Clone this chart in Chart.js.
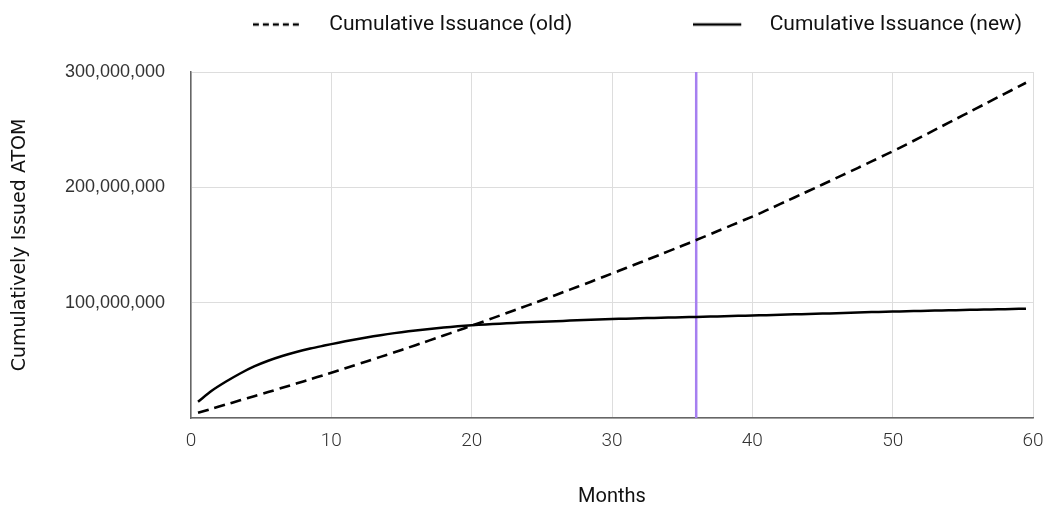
<!DOCTYPE html>
<html>
<head>
<meta charset="utf-8">
<script src="https://cdn.jsdelivr.net/npm/chart.js@4.4.1/dist/chart.umd.min.js"></script>
<style>
  html, body { margin: 0; padding: 0; background: #ffffff; }
  #wrap { width: 1045px; height: 509px; }
</style>
</head>
<body>
<div id="wrap"><canvas id="c" width="1045" height="509"></canvas></div>
<script>
// ---- data (millions of ATOM) ----
const months = [0.5,1.5,2.5,3.5,4.5,5.5,6.5,7.5,8.5,9.5,10.5,11.5,12.5,13.5,14.5,15.5,16.5,17.5,18.5,19.5,
  20.5,21.5,22.5,23.5,24.5,25.5,26.5,27.5,28.5,29.5,30.5,31.5,32.5,33.5,34.5,35.5,36.5,37.5,38.5,39.5,
  40.5,41.5,42.5,43.5,44.5,45.5,46.5,47.5,48.5,49.5,50.5,51.5,52.5,53.5,54.5,55.5,56.5,57.5,58.5,59.5];
const oldIssuanceM = [4.5,8.1,11.7,15.3,18.9,22.5,26.2,29.9,33.6,37.4,41.2,45.1,49.0,53.0,57.0,61.1,65.2,69.4,73.6,77.9,
  82.2,86.6,91.0,95.4,99.9,104.4,109.0,113.6,118.2,122.9,127.6,132.4,137.2,142.0,146.9,151.8,156.8,161.9,167.0,172.1,
  177.2,182.8,188.4,194.0,199.6,205.3,211.0,216.7,222.5,228.3,234.2,240.4,246.6,252.9,259.2,265.5,271.8,278.1,284.4,290.7];
const newIssuanceM = [14.1,23.8,31.6,38.6,44.7,49.6,53.7,57.2,60.2,62.8,65.3,67.6,69.8,71.8,73.6,75.2,76.6,77.9,79.0,80.0,
  80.8,81.5,82.1,82.7,83.2,83.7,84.2,84.7,85.2,85.6,86.0,86.3,86.6,86.9,87.2,87.5,87.8,88.1,88.4,88.7,
  89.0,89.3,89.7,90.0,90.4,90.7,91.1,91.4,91.8,92.1,92.4,92.7,93.0,93.3,93.5,93.8,94.0,94.3,94.5,94.8];
const markerMonth = [36, 36];
const markerRange = [0, 300000000];
const seriesLabels = ['Cumulative Issuance (old)', 'Cumulative Issuance (new)'];
const xTicks = [0, 10, 20, 30, 40, 50, 60];
const yTicks = [0, 100000000, 200000000, 300000000];
const xTitle = 'Months';
const yTitle = 'Cumulatively Issued ATOM';

const toPoints = (xs, ys) => xs.map((x, i) => ({ x: x, y: ys[i] * 1e6 }));

// legend glyphs: a short line sample on the left of a wider box, so text sits further right
function legendGlyph(dash) {
  const cv = document.createElement('canvas');
  cv.width = 66; cv.height = 6;
  const g = cv.getContext('2d');
  g.strokeStyle = '#000000';
  g.lineWidth = 2.5;
  g.setLineDash(dash);
  g.beginPath();
  g.moveTo(0, 3); g.lineTo(48, 3);
  g.stroke();
  return cv;
}
const glyphs = [legendGlyph([6, 4]), legendGlyph([])];

const LEG_PAD = 121;
const legendShift = {
  id: 'legendShift',
  beforeInit(chart) {
    const lg = chart.legend;
    const origFit = lg.fit;
    lg.fit = function () { origFit.call(this); this.height = 72; };
    const origDraw = lg._draw;
    lg._draw = function () {
      const t = this.top, l = this.left, r = this.right;
      this.top = t - (LEG_PAD - 14);
      this.left = l + 115; this.right = r + 115;
      origDraw.call(this);
      this.top = t; this.left = l; this.right = r;
    };
  }
};

new Chart(document.getElementById('c'), {
  type: 'line',
  data: {
    datasets: [
      {
        label: seriesLabels[0],
        data: toPoints(months, oldIssuanceM),
        borderColor: '#000000',
        backgroundColor: '#000000',
        borderWidth: 2.6,
        borderDash: [11, 6],
        pointRadius: 0,
        tension: 0.3,
        fill: false
      },
      {
        label: seriesLabels[1],
        data: toPoints(months, newIssuanceM),
        borderColor: '#000000',
        backgroundColor: '#000000',
        borderWidth: 2.5,
        pointRadius: 0,
        tension: 0.3,
        fill: false
      },
      {
        label: 'marker',
        data: markerMonth.map((m, i) => ({ x: m, y: markerRange[i] })),
        borderColor: '#a67ff0',
        backgroundColor: '#a67ff0',
        borderWidth: 2.5,
        pointRadius: 0,
        fill: false
      }
    ]
  },
  options: {
    responsive: false,
    animation: false,
    devicePixelRatio: 1,
    layout: { padding: { left: 0, right: 0, top: 0, bottom: 0 } },
    plugins: {
      tooltip: { enabled: false },
      legend: {
        position: 'top',
        align: 'center',
        labels: {
          filter: (item) => item.datasetIndex < 2,
          generateLabels: (chart) => {
            const items = Chart.defaults.plugins.legend.labels.generateLabels(chart);
            return items.map((it) => {
              it.pointStyle = glyphs[it.datasetIndex] || glyphs[1];
              return it;
            });
          },
          usePointStyle: true,
          pointStyleWidth: 66,
          padding: LEG_PAD,
          color: '#111111',
          font: { family: 'Roboto', size: 21 }
        }
      }
    },
    scales: {
      x: {
        type: 'linear',
        min: 0,
        max: 60,
        afterBuildTicks: (s) => { s.ticks = xTicks.map(v => ({ value: v })); },
        ticks: {
          color: '#333333',
          padding: 12,
          font: { family: 'Roboto', size: 19, weight: '300' }
        },
        grid: { color: '#dddddd', lineWidth: 1, drawTicks: false },
        border: { color: '#666666', width: 1.5 },
        title: {
          display: true,
          text: xTitle,
          color: '#111111',
          font: { family: 'Roboto', size: 20 },
          padding: { top: 0, bottom: 0 }
        },
        afterFit: (s) => { s.height = 91; s.paddingRight = 12; s.paddingLeft = 0; }
      },
      y: {
        type: 'linear',
        min: 0,
        max: 300000000,
        afterBuildTicks: (s) => { s.ticks = yTicks.map(v => ({ value: v })); },
        ticks: {
          color: '#333333',
          padding: 26,
          font: { family: 'Liberation Sans', size: 18 },
          callback: (v) => v === 0 ? '' : v.toLocaleString('en-US')
        },
        grid: { color: '#dddddd', lineWidth: 1, drawTicks: false },
        border: { color: '#666666', width: 1.5 },
        title: {
          display: true,
          text: yTitle,
          color: '#111111',
          font: { family: 'DejaVu Sans', size: 19 },
          padding: { top: 9, bottom: 0 }
        },
        afterFit: (s) => { s.width = 191; s.paddingTop = 0; s.paddingBottom = 0; }
      }
    }
  },
  plugins: [legendShift]
});
</script>
</body>
</html>
